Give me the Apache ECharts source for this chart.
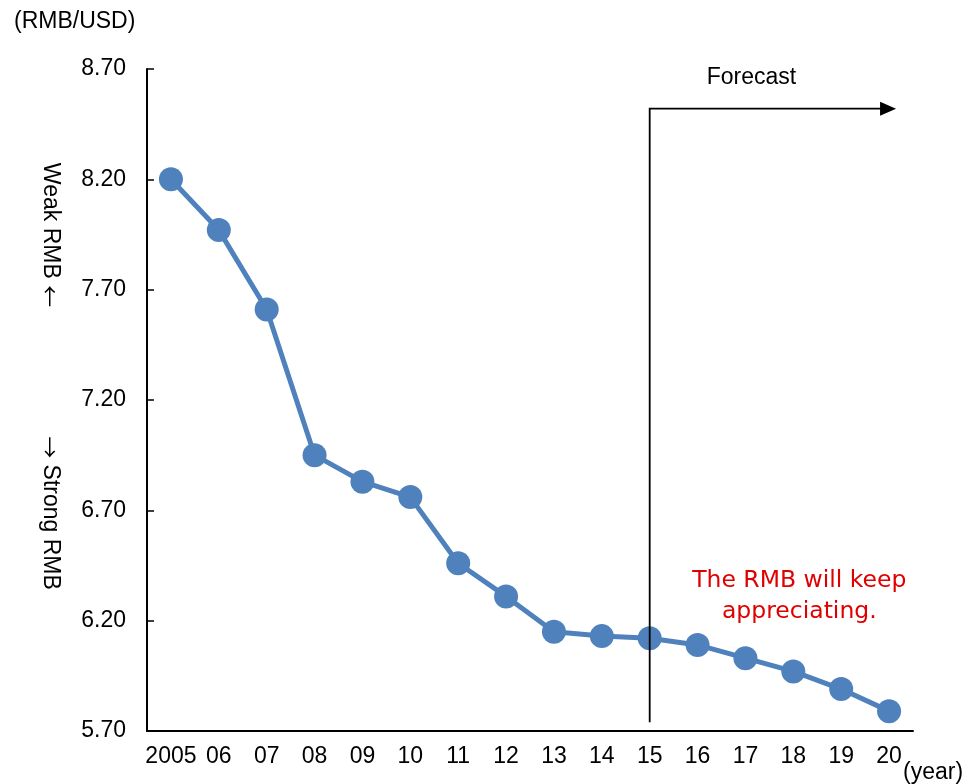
<!DOCTYPE html>
<html>
<head>
<meta charset="utf-8">
<script src="https://cdn.jsdelivr.net/npm/echarts@6/dist/echarts.min.js"></script>
<style>
  html, body { margin: 0; padding: 0; background: #ffffff; }
  #chart { width: 966px; height: 784px; }
</style>
</head>
<body>
<div id="chart"></div>
<script>
// Yearly RMB/USD exchange rate, 2005-2015 actual, 2016-2020 forecast
const years = ['2005', '06', '07', '08', '09', '10', '11', '12', '13', '14', '15', '16', '17', '18', '19', '20'];
const rates = [8.20, 7.97, 7.61, 6.95, 6.83, 6.76, 6.46, 6.31, 6.15, 6.13, 6.12, 6.09, 6.03, 5.97, 5.89, 5.79];

// Value axis range
const yMin = 5.70;
const yMax = 8.70;
const yStep = 0.50;

// Forecast bracket: starts at this year, spans these rate levels
const forecastStart = '15';
const forecastEnd = '20';
const forecastTop = 8.52;
const forecastBottom = 5.74;

const FONT = '"Liberation Sans", Arial, sans-serif';
const ARROW_FONT = '"Noto Sans CJK JP", "DejaVu Sans", sans-serif';
const NOTE_FONT = '"DejaVu Sans", sans-serif';
const SIZE = 23;
const BLUE = '#4F81BD';

const chart = echarts.init(document.getElementById('chart'), null, { renderer: 'canvas' });

chart.setOption({
  animation: false,
  backgroundColor: '#ffffff',
  grid: { left: 147, right: 53, top: 69, bottom: 53, containLabel: false },
  xAxis: {
    type: 'category',
    data: years,
    boundaryGap: true,
    axisLine: { lineStyle: { color: '#000', width: 2 } },
    axisTick: { inside: true, length: 7, lineStyle: { color: '#000', width: 1.5 } },
    axisLabel: { color: '#000', fontFamily: FONT, fontSize: SIZE, margin: 14, interval: 0 },
    splitLine: { show: false }
  },
  yAxis: {
    type: 'value',
    min: yMin,
    max: yMax,
    interval: yStep,
    axisLine: { show: true, lineStyle: { color: '#000', width: 2 } },
    axisTick: { show: true, inside: true, length: 7, lineStyle: { color: '#000', width: 1.5 } },
    axisLabel: {
      color: '#000', fontFamily: FONT, fontSize: SIZE, margin: 21,
      formatter: v => v.toFixed(2)
    },
    splitLine: { show: false }
  },
  series: [{
    type: 'line',
    data: rates,
    symbol: 'circle',
    symbolSize: 24,
    lineStyle: { color: BLUE, width: 5 },
    itemStyle: { color: BLUE },
    z: 3
  }]
});

// Annotations anchored to the data coordinates
const px = (cat, val) => chart.convertToPixel({ gridIndex: 0 }, [cat, val]);
const topLeft = px(forecastStart, forecastTop);
const bottomLeft = px(forecastStart, forecastBottom);
const rightEnd = px(forecastEnd, forecastTop);
const tipX = rightEnd[0] + 7;
const headLen = 16, headHalf = 7;
const midForecast = px('17', forecastTop);
const noteAnchor = px('18', 6.20);

const sideText = (txt, y) => ({
  type: 'text', z: 10,
  x: 50, y: y, rotation: -Math.PI / 2,
  style: {
    text: txt, fill: '#000', align: 'center', verticalAlign: 'middle',
    font: SIZE + 'px ' + FONT,
    rich: { a: { fontFamily: ARROW_FONT, fontSize: 22, fill: '#000' } }
  }
});

chart.setOption({
  graphic: [
    {
      type: 'polyline', z: 10,
      shape: { points: [bottomLeft, topLeft, [tipX - headLen + 1, topLeft[1]]] },
      style: { stroke: '#000', lineWidth: 1.8, fill: null }
    },
    {
      type: 'polygon', z: 10,
      shape: { points: [[tipX, topLeft[1]], [tipX - headLen, topLeft[1] - headHalf], [tipX - headLen, topLeft[1] + headHalf]] },
      style: { fill: '#000' }
    },
    {
      type: 'text', z: 10,
      x: midForecast[0] + 6, y: topLeft[1] - 31,
      style: { text: 'Forecast', fill: '#000', font: SIZE + 'px ' + FONT, align: 'center', verticalAlign: 'middle' }
    },
    {
      type: 'text', z: 10,
      x: noteAnchor[0] + 6, y: noteAnchor[1] - 24,
      style: {
        text: 'The RMB will keep\nappreciating.', fill: '#E00000',
        font: '23.5px ' + NOTE_FONT, align: 'center', verticalAlign: 'middle', lineHeight: 31
      }
    },
    {
      type: 'text', z: 10,
      left: 14, top: 10,
      style: { text: '(RMB/USD)', fill: '#000', font: SIZE + 'px ' + FONT }
    },
    {
      type: 'text', z: 10,
      x: 903, y: 773,
      style: { text: '(year)', fill: '#000', font: SIZE + 'px ' + FONT, verticalAlign: 'middle' }
    },
    sideText('Weak RMB {a|\u2190}', 235),
    sideText('{a|\u2192} Strong RMB', 513)
  ]
});
</script>
</body>
</html>
